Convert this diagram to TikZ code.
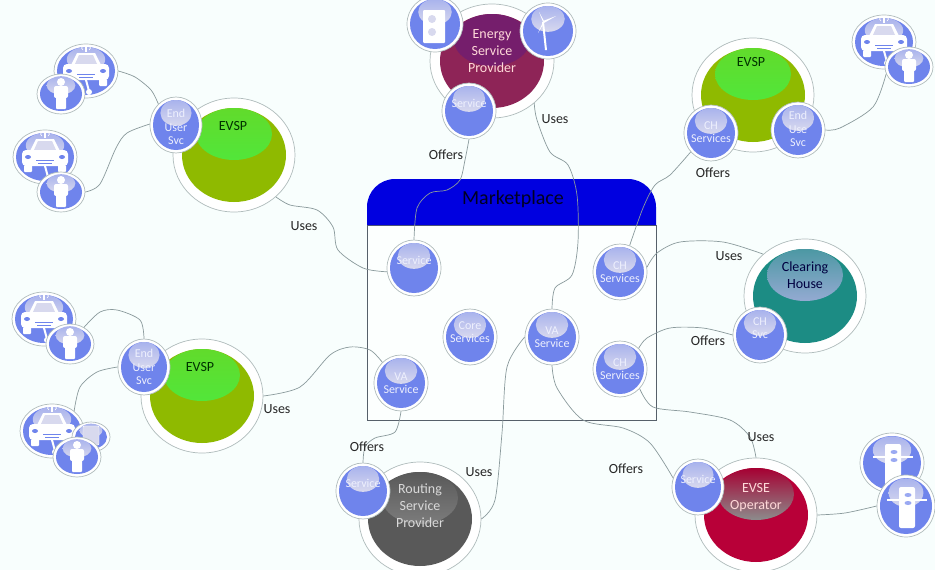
\documentclass[tikz,border=0pt]{standalone}
\usepackage{xcolor}
\usepackage{fontspec}
\setmainfont{Carlito}
\usetikzlibrary{calc,shapes.geometric,positioning}

\definecolor{pagebg}{HTML}{F8FEFD}
\definecolor{ringgray}{HTML}{B0BCBC}
\definecolor{wiregray}{HTML}{8A9A9C}
\definecolor{diskblue}{HTML}{6F84EC}
\definecolor{glowlav}{HTML}{D8D9EE}
\definecolor{headerblue}{HTML}{0000E0}
\definecolor{borderdark}{HTML}{56606A}
\definecolor{evspgreen}{HTML}{8FBA00}
\definecolor{evspglow}{HTML}{52E63A}
\definecolor{energymaroon}{HTML}{8E2457}
\definecolor{energyglow}{HTML}{751E6C}
\definecolor{clearingteal}{HTML}{1C8C84}
\definecolor{clearingglow}{HTML}{94AAD2}
\definecolor{evsecrimson}{HTML}{B80038}
\definecolor{evseglow}{HTML}{8C8C8C}
\definecolor{routinggray}{HTML}{595959}
\definecolor{routingglow}{HTML}{7C7C7C}

\tikzset{
    wire/.style={draw=wiregray,line width=.7pt},
    wordlabel/.style={font=\fontsize{14}{16}\selectfont,text=black!85},
    svctext/.style={font=\fontsize{12}{13.5}\selectfont,text=white!88!diskblue,align=center,inner sep=0pt},
    bigtext/.style={font=\fontsize{14}{17}\selectfont,align=center,inner sep=0pt},
    satellite/.style n args={2}{ellipse,draw=ringgray,fill=white,line width=.7pt,inner sep=0pt,
        minimum width={2*#1pt},minimum height={2*#2pt},
        path picture={
            \fill[diskblue] (path picture bounding box.center) ellipse [x radius={#1pt-3pt},y radius={#2pt-3pt}];
            \shade[top color=glowlav!55!diskblue,bottom color=glowlav] ([yshift={.43*#2pt}]path picture bounding box.center) ellipse [x radius={.6*#1pt},y radius={.46*#2pt}];
        }},
    svc/.style={satellite={27}{28}},
    carnode/.style={satellite={32}{27}},
    personnode/.style={satellite={24}{20}},
    provider/.style n args={3}{ellipse,draw=ringgray,fill=white,line width=.7pt,inner sep=0pt,
        minimum width=122pt,minimum height=114pt,
        path picture={
            \fill[#1] (path picture bounding box.center) ellipse [x radius=52pt,y radius=47pt];
            \shade[top color=#2,bottom color=#3] ([yshift=21pt]path picture bounding box.center) ellipse [x radius=38pt,y radius=26pt];
        }},
    caricon/.pic={
        \fill[white] (-9,-18) -- (9,-18) -- (15,-6) -- (-15,-6) -- cycle;
        \fill[glowlav] (-7,-16) -- (7,-16) -- (11,-7) -- (-11,-7) -- cycle;
        \fill[white,rounded corners=4pt] (-23,-7) rectangle (23,9);
        \fill[white,rounded corners=1pt] (-21,8) rectangle (-13,15);
        \fill[white,rounded corners=1pt] (13,8) rectangle (21,15);
        \fill[diskblue] (-17,0) ellipse [x radius=3pt,y radius=2pt];
        \fill[diskblue] (17,0) ellipse [x radius=3pt,y radius=2pt];
        \draw[diskblue,line width=.7pt] (-9,3) -- (9,3);
        \draw[diskblue,line width=.7pt] (-7,6) -- (7,6);
        \draw[white,line width=2pt] (0,9) -- (3,20);
        \fill[white] (3,21) circle (3pt);
        \fill[white] (-.8,-25) rectangle (.8,-19);
        \draw[white,line width=.6pt] (-3,-25) -- (-4.5,-23) -- (-3,-21);
        \draw[white,line width=.6pt] (3,-25) -- (4.5,-23) -- (3,-21);
    },
    personicon/.pic={
        \fill[white] (0,-12) circle (4pt);
        \fill[white,rounded corners=2pt] (-7,-8) rectangle (7,4);
        \fill[white,rounded corners=1pt] (-5,-8) rectangle (5,15);
    },
    plugicon/.pic={
        \fill[white,rounded corners=1pt] (-12,-14) rectangle (10,19);
        \fill[glowlav] (-3,-5) circle (4pt);
        \fill[glowlav] (-3,8) circle (4pt);
    },
    turbineicon/.pic={
        \fill[white] (-6,-9) -- (-4,-9) -- (-1,19) -- (-3,19) -- cycle;
        \fill[white] (-5,-9) -- (-9,-19) -- (-4,-10) -- cycle;
        \fill[white] (-5,-10) -- (8,-15) -- (-4,-8) -- cycle;
        \fill[white] (-5,-9) -- (-10,2) -- (-4,-8) -- cycle;
    },
    chargericon/.pic={
        \fill[white,rounded corners=2pt] (-7,-19) rectangle (9,22);
        \fill[white] (-19,-7) rectangle (21,-5);
        \fill[diskblue!70] (2,-11) ellipse [x radius=3.5pt,y radius=2pt];
        \fill[diskblue!70] (2,-3) ellipse [x radius=3.5pt,y radius=2pt];
    },
    phoneicon/.pic={
        \draw[white,fill=glowlav,rounded corners=1pt] (-8,-11) rectangle (8,8);
    }
}

\begin{document}
\begin{tikzpicture}[x=1pt,y=-1pt,on grid]
    \fill[pagebg] (0,0) rectangle (935,570);
    \useasboundingbox (0,0) rectangle (935,570);

    %marketplace
    \node[draw=borderdark,line width=1pt,fill=white!60!pagebg,minimum width=289pt,minimum height=195pt,inner sep=0pt] (marketbody) at (511.5,322.5) {};
    \fill[headerblue] (367,225) [rounded corners=28pt] -- (367,179) -- (656,179) [sharp corners] -- (656,225) -- cycle;
    \node[font=\fontsize{20}{22}\selectfont,text={black!85!headerblue}] (markettitle) at (513,199) {Marketplace};
    \node[svc,label={[svctext,yshift=8pt]center:Service}] (marketsvc) at (414,268) {};
    \node[svc,label={[svctext,yshift=5pt]center:Core\\Services},below right=69pt and 56pt of marketsvc] (marketcore) {};
    \node[svc,label={[svctext]center:VA\\Service},right=82pt of marketcore] (marketva) {};
    \node[svc,label={[svctext]center:VA\\Service},below left=46pt and 69pt of marketcore] (marketvaleft) {};
    \node[svc,label={[svctext]center:CH\\Services},right=206pt of marketsvc,yshift=-4pt] (marketchtop) {};
    \node[svc,label={[svctext]center:CH\\Services},below=97pt of marketchtop] (marketchlow) {};

    %energy service provider
    \node[provider={energymaroon}{energyglow}{energyglow},minimum width=124pt,label={[bigtext,text=white!85!red,yshift=10pt]center:Energy\\Service\\Provider}] (energy) at (492,61) {};
    \node[satellite={28}{28},above left=37pt and 57pt of energy] (energyplug) {};
    \pic at (energyplug) {plugicon};
    \node[satellite={28}{28},above right=30pt and 56pt of energy] (energywind) {};
    \pic at (energywind) {turbineicon};
    \node[svc,label={[svctext,yshift=8pt]center:Service},below left=50pt and 23pt of energy] (energysvc) {};

    %evsp top left
    \node[provider={evspgreen}{evspglow!75!evspgreen}{evspglow},label={[bigtext,text=black!80!green,xshift=-1pt,yshift=29pt]center:EVSP}] (evsp1) at (234,155) {};
    \node[satellite={26}{28},label={[svctext,yshift=-2pt]center:End\\User\\Svc},above left=30pt and 58pt of evsp1] (evsp1svc) {};
    \node[carnode,above left=54pt and 90pt of evsp1svc] (evsp1car) {};
    \pic at (evsp1car) {caricon};
    \node[personnode,below left=23pt and 25pt of evsp1car] (evsp1person) {};
    \pic at (evsp1person) {personicon};
    \node[carnode,below left=32pt and 131pt of evsp1svc] (evsp1cartwo) {};
    \pic at (evsp1cartwo) {caricon};
    \node[personnode,below right=35pt and 16pt of evsp1cartwo] (evsp1persontwo) {};
    \pic at (evsp1persontwo) {personicon};

    %evsp top right
    \node[provider={evspgreen}{evspglow!75!evspgreen}{evspglow},label={[bigtext,text=black!80!green,xshift=-2pt,yshift=33pt]center:EVSP}] (evsp2) at (753,95) {};
    \node[svc,label={[svctext,yshift=1pt]center:CH\\Services},below left=38pt and 42pt of evsp2] (evsp2chsvc) {};
    \node[svc,label={[svctext,yshift=1pt]center:End\\Use\\Svc},below right=35pt and 45pt of evsp2] (evsp2endsvc) {};
    \node[carnode,above right=88pt and 86pt of evsp2endsvc] (evsp2car) {};
    \pic at (evsp2car) {caricon};
    \node[personnode,below right=25pt and 25pt of evsp2car] (evsp2person) {};
    \pic at (evsp2person) {personicon};

    %evsp left
    \node[provider={evspgreen}{evspglow!75!evspgreen}{evspglow},label={[bigtext,text=black!80!green,xshift=-2pt,yshift=29pt]center:EVSP}] (evsp3) at (202,396) {};
    \node[satellite={26}{28},label={[svctext]center:End\\User\\Svc},above left=29pt and 58pt of evsp3] (evsp3svc) {};
    \node[carnode,above left=48pt and 100pt of evsp3svc] (evsp3car) {};
    \pic at (evsp3car) {caricon};
    \node[personnode,below right=25pt and 26pt of evsp3car] (evsp3person) {};
    \pic at (evsp3person) {personicon};
    \node[carnode,below left=64pt and 92pt of evsp3svc] (evsp3cartwo) {};
    \pic at (evsp3cartwo) {caricon};
    \node[satellite={19}{15},below right=6pt and 39pt of evsp3cartwo] (evsp3phone) {};
    \pic at (evsp3phone) {phoneicon};
    \node[personnode,below right=26pt and 25pt of evsp3cartwo] (evsp3persontwo) {};
    \pic at (evsp3persontwo) {personicon};

    %clearing house
    \node[provider={clearingteal}{clearingteal!60!clearingglow}{clearingglow},label={[bigtext,text=black!75!blue,yshift=21pt]center:Clearing\\House}] (clearing) at (805,296) {};
    \node[svc,label={[svctext,yshift=7pt]center:CH\\Svc},below left=39pt and 45pt of clearing] (clearingsvc) {};

    %evse operator
    \node[provider={evsecrimson}{black!10!evsecrimson}{evseglow},label={[bigtext,text=white!85!red,yshift=17pt]center:EVSE\\Operator}] (evse) at (756,515) {};
    \node[satellite={26}{28},label={[svctext,yshift=8pt]center:Service},above left=28pt and 58pt of evse] (evsesvc) {};
    \node[satellite={32}{30},above right=52pt and 136pt of evse] (evsepost) {};
    \pic at (evsepost) {chargericon};
    \node[satellite={29}{31},above right=9pt and 150pt of evse] (evseposttwo) {};
    \pic at (evseposttwo) {chargericon};

    %routing service provider
    \node[provider={routinggray}{routinggray}{routingglow},label={[bigtext,text=white!85!black,yshift=13pt]center:Routing\\Service\\Provider}] (routing) at (420,519) {};
    \node[svc,label={[svctext,yshift=8pt]center:Service},above left=28pt and 57pt of routing] (routingsvc) {};

    %wires to the devices
    \draw[wire] plot[smooth] coordinates {(evsp1car.east) (135,77) (151,90) (evsp1svc.130)};
    \draw[wire] plot[smooth] coordinates {(evsp1persontwo.east) (100,184) (116,148) (127,133) (evsp1svc.178)};
    \draw[wire] plot[smooth] coordinates {(evsp2endsvc.east) (840,128) (873,107) (evsp2person.197)};
    \draw[wire] plot[smooth] coordinates {(evsp3person.50) (100,312) (117,310) (140,320) (evsp3svc.north)};
    \draw[wire] plot[smooth] coordinates {(evsp3cartwo.42) (80,387) (97,372) (evsp3svc.west)};
    \draw[wire] plot[smooth] coordinates {(evse.east) (845,513) (evseposttwo.west)};

    %wires to the marketplace
    \draw[wire] plot[smooth] coordinates {(evsp1.-45) (290,205) (317,210) (333,227) (338,250) (363,268) (marketsvc.188)};
    \draw[wire] plot[smooth] coordinates {(energysvc.south) (465,160) (460,180) (447,190) (430,193) (417,208) (marketsvc.north)};
    \draw[wire] plot[smooth] coordinates {(energy.-45) (537,120) (550,152) (568,165) (577,195) (578,242) (572,275) (555,288) (marketva.north)};
    \draw[wire] plot[smooth] coordinates {(evsp2chsvc.-137) (670,175) (655,185) (643,208) (marketchtop.70)};
    \draw[wire] plot[smooth] coordinates {(marketchtop.10) (657,253) (680,242) (723,242) (clearing.135)};
    \draw[wire] plot[smooth] coordinates {(clearingsvc.west) (703,328) (670,328) (647,338) (marketchlow.48)};
    \draw[wire] plot[smooth] coordinates {(marketchlow.-45) (653,407) (690,412) (730,420) (750,437) (evse.north)};
    \draw[wire] plot[smooth] coordinates {(marketva.south) (557,388) (583,420) (623,428) (650,443) (evsesvc.160)};
    \draw[wire] plot[smooth] coordinates {(routing.east) (495,500) (502,433) (507,367) (marketva.west)};
    \draw[wire] plot[smooth] coordinates {(marketvaleft.south) (395,432) (375,438) (365,447) (routingsvc.north)};
    \draw[wire] plot[smooth] coordinates {(evsp3.east) (300,387) (330,355) (350,347) (370,350) (marketvaleft.132)};

    %words on the wires
    \node[wordlabel] (usesone) at (304,226) {Uses};
    \node[wordlabel] (usestwo) at (555,119) {Uses};
    \node[wordlabel] (usesthree) at (729,256) {Uses};
    \node[wordlabel] (usesfour) at (277,409) {Uses};
    \node[wordlabel] (usesfive) at (479,472) {Uses};
    \node[wordlabel] (usessix) at (761,437) {Uses};
    \node[wordlabel] (offersone) at (446,155) {Offers};
    \node[wordlabel] (offerstwo) at (713,173) {Offers};
    \node[wordlabel] (offersthree) at (708,341) {Offers};
    \node[wordlabel] (offersfour) at (367,447) {Offers};
    \node[wordlabel] (offersfive) at (626,469) {Offers};
\end{tikzpicture}
\end{document}
